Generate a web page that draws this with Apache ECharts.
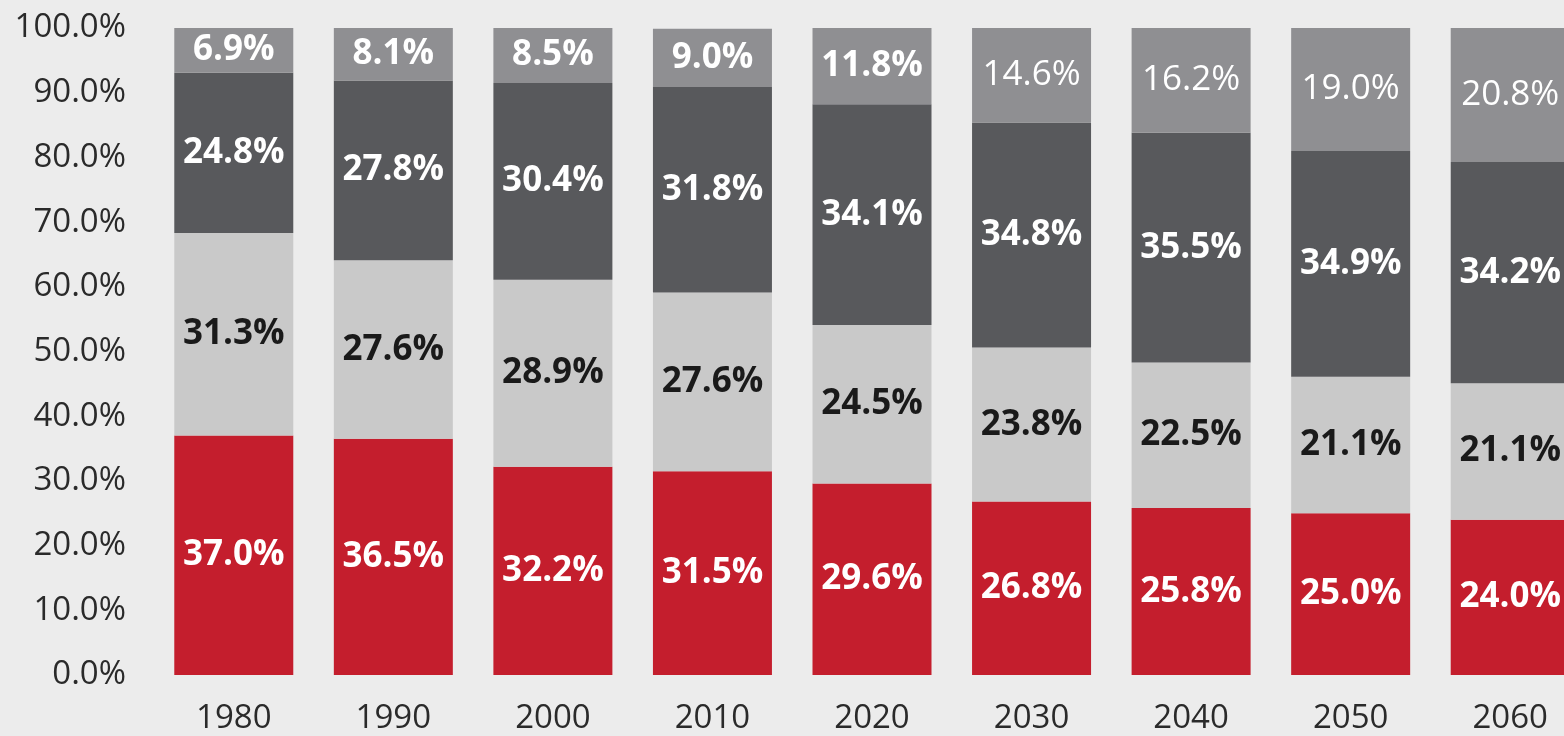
<!DOCTYPE html>
<html>
<head>
<meta charset="utf-8">
<script src="https://cdn.jsdelivr.net/npm/echarts@6/dist/echarts.min.js"></script>
<style>
  html, body { margin: 0; padding: 0; background: #ececec; }
  #chart { width: 1564px; height: 736px; }
</style>
</head>
<body>
<div id="chart"></div>
<script>
const years = ['1980', '1990', '2000', '2010', '2020', '2030', '2040', '2050', '2060'];
const redShare = [37.0, 36.5, 32.2, 31.5, 29.6, 26.8, 25.8, 25.0, 24.0];
const lightShare = [31.3, 27.6, 28.9, 27.6, 24.5, 23.8, 22.5, 21.1, 21.1];
const darkShare = [24.8, 27.8, 30.4, 31.8, 34.1, 34.8, 35.5, 34.9, 34.2];
const topShare = [6.9, 8.1, 8.5, 9.0, 11.8, 14.6, 16.2, 19.0, 20.8];
// the top labels switch to a lighter weight from 2030 on
const topBold = [true, true, true, true, true, false, false, false, false];

const fontFamily = '"Open Sans", sans-serif';

const chart = echarts.init(document.getElementById('chart'));

const makeSeries = (name, values, color, labelColor, weights) => ({
  name: name,
  type: 'bar',
  stack: 'total',
  barWidth: 119,
  data: values.map((v, i) => ({
    value: v,
    label: { fontWeight: weights ? (weights[i] ? 'bold' : 'normal') : 'bold' }
  })),
  itemStyle: { color: color },
  label: {
    show: true,
    position: 'inside',
    color: labelColor,
    fontFamily: fontFamily,
    fontSize: 35,
    formatter: p => p.value.toFixed(1) + '%'
  }
});

const option = {
  backgroundColor: '#ececec',
  animation: false,
  grid: {
    left: 154,
    width: 1436,
    top: 28,
    bottom: 61,
    // the last bar runs off the right edge in the original
    outerBoundsMode: 'none'
  },
  xAxis: {
    type: 'category',
    data: years,
    axisLine: { show: false },
    axisTick: { show: false },
    axisLabel: {
      color: '#2a2a2a',
      fontFamily: fontFamily,
      fontSize: 33,
      margin: 27
    }
  },
  yAxis: {
    type: 'value',
    min: 0,
    max: 100,
    interval: 10,
    splitLine: { show: false },
    axisLine: { show: false },
    axisTick: { show: false },
    axisLabel: {
      color: '#2a2a2a',
      fontFamily: fontFamily,
      fontSize: 33,
      margin: 28,
      formatter: v => v.toFixed(1) + '%'
    }
  },
  series: [
    makeSeries('red', redShare, '#c41e2d', '#ffffff'),
    makeSeries('light', lightShare, '#c9c9c9', '#1a1a1a'),
    makeSeries('dark', darkShare, '#58595c', '#ffffff'),
    makeSeries('top', topShare, '#8f8f92', '#ffffff', topBold)
  ]
};

chart.setOption(option);
</script>
</body>
</html>
